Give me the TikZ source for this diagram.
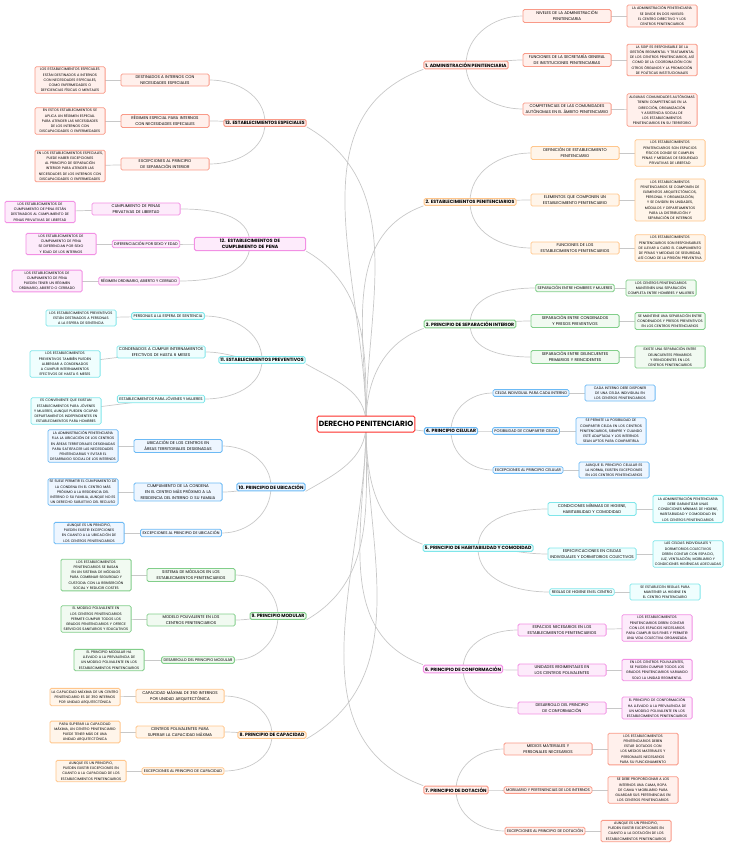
\documentclass[tikz,border=0pt]{standalone}
\usepackage{fontspec}
\setmainfont{Poppins}
\usetikzlibrary{backgrounds}
\definecolor{bR}{HTML}{F99A88}\definecolor{fR}{HTML}{FFF0EC}
\definecolor{bO}{HTML}{FFC68C}\definecolor{fO}{HTML}{FFF5EA}
\definecolor{bG}{HTML}{82CE8A}\definecolor{fG}{HTML}{F1FAF1}
\definecolor{bB}{HTML}{6CBAF5}\definecolor{fB}{HTML}{EEF6FF}
\definecolor{bC}{HTML}{80E6EA}\definecolor{fC}{HTML}{EFFEFE}
\definecolor{bP}{HTML}{F290E4}\definecolor{fP}{HTML}{FDEBFB}
\definecolor{ln}{HTML}{C8C8C8}
\begin{document}
\hyphenpenalty=10000 \exhyphenpenalty=10000
\begin{tikzpicture}[x=1pt,y=-1pt,
 base/.style={rounded corners=1.5pt,line width=0.8pt,align=center,inner sep=1.6pt},
 leaf/.style={base,font=\fontsize{3.5}{5.2}\selectfont,text width=67pt},
 child/.style={base,font=\fontsize{4.0}{5.9}\selectfont,text width=85pt},
 one/.style={base,font=\fontsize{3.8}{5.9}\selectfont,inner sep=2pt},
 main/.style={base,line width=1pt,font=\bfseries\fontsize{4.6}{6.4}\selectfont},
 cR/.style={draw=bR,fill=fR},cO/.style={draw=bO,fill=fO},cG/.style={draw=bG,fill=fG},
 cB/.style={draw=bB,fill=fB},cC/.style={draw=bC,fill=fC},cP/.style={draw=bP,fill=fP},
 con/.style={draw=ln,line width=0.7pt}]
\useasboundingbox (0,0) rectangle (728,848);
\node[base,cR,draw=red!70!bR,line width=1pt,fill=white,font=\bfseries\fontsize{7.5}{9}\selectfont,minimum width=88pt,minimum height=16pt] (root) at (366,424) {DERECHO PENITENCIARIO};
% ---- right mains
\node[main,cR] (m1) at (466,65) {1. ADMINISTRACIÓN PENITENCIARIA};
\node[main,cO] (m2) at (470,202) {2. ESTABLECIMIENTOS PENITENCIARIOS};
\node[main,cG] (m3) at (470,324) {3. PRINCIPIO DE SEPARACIÓN INTERIOR};
\node[main,cB] (m4) at (451,431) {4. PRINCIPIO CELULAR};
\node[main,cC] (m5) at (478,548) {5. PRINCIPIO DE HABITABILIDAD Y COMODIDAD};
\node[main,cP] (m6) at (463,669) {6. PRINCIPIO DE CONFORMACIÓN};
\node[main,cR] (m7) at (456,790) {7. PRINCIPIO DE DOTACIÓN};
% ---- left mains
\node[main,cR] (m13) at (265,123) {13. ESTABLECIMIENTOS ESPECIALES};
\node[main,cP,text width=108pt] (m12) at (250,244) {12. ESTABLECIMIENTOS DE CUMPLIMIENTO DE PENA};
\node[main,cC] (m11) at (262,360) {11. ESTABLECIMIENTOS PREVENTIVOS};
\node[main,cB] (m10) at (271,487) {10. PRINCIPIO DE UBICACIÓN};
\node[main,cG] (m9) at (278,616) {9. PRINCIPIO MODULAR};
\node[main,cO] (m8) at (272,735) {8. PRINCIPIO DE CAPACIDAD};
% ---- 1
\node[child,cR] (c1a) at (567,16) {NIVELES DE LA ADMINISTRACIÓN PENITENCIARIA};
\node[child,cR] (c1b) at (567,60) {FUNCIONES DE LA SECRETARÍA GENERAL DE INSTITUCIONES PENITENCIARIAS};
\node[child,cR] (c1c) at (567,109) {COMPETENCIAS DE LAS COMUNIDADES AUTÓNOMAS EN EL ÁMBITO PENITENCIARIO};
\node[leaf,cR] (l1a) at (662,16) {LA ADMINISTRACIÓN PENITENCIARIA SE DIVIDE EN DOS NIVELES: EL CENTRO DIRECTIVO Y LOS CENTROS PENITENCIARIOS};
\node[leaf,cR] (l1b) at (662,60) {LA SGIP ES RESPONSABLE DE LA GESTIÓN REGIMENTAL Y TRATAMENTAL DE LOS CENTROS PENITENCIARIOS, ASÍ COMO DE LA COORDINACIÓN CON OTROS ÓRGANOS Y LA PROMOCIÓN DE POLÍTICAS INSTITUCIONALES};
\node[leaf,cR] (l1c) at (662,110) {ALGUNAS COMUNIDADES AUTÓNOMAS TIENEN COMPETENCIAS EN LA DIRECCIÓN, ORGANIZACIÓN Y ASISTENCIA SOCIAL DE LOS ESTABLECIMIENTOS PENITENCIARIOS EN SU TERRITORIO};
% ---- 2
\node[child,cO] (c2a) at (575,153) {DEFINICIÓN DE ESTABLECIMIENTO PENITENCIARIO};
\node[child,cO] (c2b) at (575,200) {ELEMENTOS QUE COMPONEN UN ESTABLECIMIENTO PENITENCIARIO};
\node[child,cO] (c2c) at (575,248) {FUNCIONES DE LOS ESTABLECIMIENTOS PENITENCIARIOS};
\node[leaf,cO] (l2a) at (670,153) {LOS ESTABLECIMIENTOS PENITENCIARIOS SON ESPACIOS FÍSICOS DONDE SE CUMPLEN PENAS Y MEDIDAS DE SEGURIDAD PRIVATIVAS DE LIBERTAD};
\node[leaf,cO] (l2b) at (670,200) {LOS ESTABLECIMIENTOS PENITENCIARIOS SE COMPONEN DE ELEMENTOS ARQUITECTÓNICOS, PERSONAL Y ORGANIZACIÓN, Y SE DIVIDEN EN UNIDADES, MÓDULOS Y DEPARTAMENTOS PARA LA DISTRIBUCIÓN Y SEPARACIÓN DE INTERNOS};
\node[leaf,cO] (l2c) at (670,248) {LOS ESTABLECIMIENTOS PENITENCIARIOS SON RESPONSABLES DE LLEVAR A CABO EL CUMPLIMIENTO DE PENAS Y MEDIDAS DE SEGURIDAD, ASÍ COMO DE LA PRISIÓN PREVENTIVA};
% ---- 3
\node[one,cG] (c3a) at (575,288) {SEPARACIÓN ENTRE HOMBRES Y MUJERES};
\node[child,cG] (c3b) at (575,321) {SEPARACIÓN ENTRE CONDENADOS Y PRESOS PREVENTIVOS};
\node[child,cG] (c3c) at (575,357) {SEPARACIÓN ENTRE DELINCUENTES PRIMARIOS Y REINCIDENTES};
\node[leaf,cG] (l3a) at (661,288) {LOS CENTROS PENITENCIARIOS MANTIENEN UNA SEPARACIÓN COMPLETA ENTRE HOMBRES Y MUJERES};
\node[leaf,cG] (l3b) at (670,321) {SE MANTIENE UNA SEPARACIÓN ENTRE CONDENADOS Y PRESOS PREVENTIVOS EN LOS CENTROS PENITENCIARIOS};
\node[leaf,cG] (l3c) at (670,357) {EXISTE UNA SEPARACIÓN ENTRE DELINCUENTES PRIMARIOS Y REINCIDENTES EN LOS CENTROS PENITENCIARIOS};
% ---- 4
\node[one,cB] (c4a) at (531,393) {CELDA INDIVIDUAL PARA CADA INTERNO};
\node[one,cB] (c4b) at (526,431) {POSIBILIDAD DE COMPARTIR CELDA};
\node[one,cB] (c4c) at (528,470) {EXCEPCIONES AL PRINCIPIO CELULAR};
\node[leaf,cB] (l4a) at (620,393) {CADA INTERNO DEBE DISPONER DE UNA CELDA INDIVIDUAL EN LOS CENTROS PENITENCIARIOS};
\node[leaf,cB] (l4b) at (611,431) {SE PERMITE LA POSIBILIDAD DE COMPARTIR CELDA EN LOS CENTROS PENITENCIARIOS, SIEMPRE Y CUANDO ESTÉ ADAPTADA Y LOS INTERNOS SEAN APTOS PARA COMPARTIRLA};
\node[leaf,cB] (l4c) at (614,470) {AUNQUE EL PRINCIPIO CELULAR ES LA NORMA, EXISTEN EXCEPCIONES EN LOS CENTROS PENITENCIARIOS};
% ---- 5
\node[child,cC] (c5a) at (592,509) {CONDICIONES MÍNIMAS DE HIGIENE, HABITABILIDAD Y COMODIDAD};
\node[child,cC] (c5b) at (592,554) {ESPECIFICACIONES EN CELDAS INDIVIDUALES Y DORMITORIOS COLECTIVOS};
\node[one,cC] (c5c) at (582,592) {REGLAS DE HIGIENE EN EL CENTRO};
\node[leaf,cC] (l5a) at (688,509) {LA ADMINISTRACIÓN PENITENCIARIA DEBE GARANTIZAR UNAS CONDICIONES MÍNIMAS DE HIGIENE, HABITABILIDAD Y COMODIDAD EN LOS CENTROS PENITENCIARIOS};
\node[leaf,cC] (l5b) at (688,554) {LAS CELDAS INDIVIDUALES Y DORMITORIOS COLECTIVOS DEBEN CONTAR CON ESPACIO, LUZ, VENTILACIÓN, MOBILIARIO Y CONDICIONES HIGIÉNICAS ADECUADAS};
\node[leaf,cC] (l5c) at (665,592) {SE ESTABLECEN REGLAS PARA MANTENER LA HIGIENE EN EL CENTRO PENITENCIARIO};
% ---- 6
\node[child,cP] (c6a) at (562,630) {ESPACIOS NECESARIOS EN LOS ESTABLECIMIENTOS PENITENCIARIOS};
\node[child,cP] (c6b) at (562,670) {UNIDADES REGIMENTALES EN LOS CENTROS POLIVALENTES};
\node[child,cP] (c6c) at (562,708) {DESARROLLO DEL PRINCIPIO DE CONFORMACIÓN};
\node[leaf,cP] (l6a) at (657,628) {LOS ESTABLECIMIENTOS PENITENCIARIOS DEBEN CONTAR CON LOS ESPACIOS NECESARIOS PARA CUMPLIR SUS FINES Y PERMITIR UNA VIDA COLECTIVA ORGANIZADA};
\node[leaf,cP] (l6b) at (657,670) {EN LOS CENTROS POLIVALENTES, SE PUEDEN CUMPLIR TODOS LOS GRADOS PENITENCIARIOS VARIANDO SOLO LA UNIDAD REGIMENTAL};
\node[leaf,cP] (l6c) at (657,708) {EL PRINCIPIO DE CONFORMACIÓN HA LLEVADO A LA PREVALENCIA DE UN MODELO POLIVALENTE EN LOS ESTABLECIMIENTOS PENITENCIARIOS};
% ---- 7
\node[child,cR] (c7a) at (548,749) {MEDIOS MATERIALES Y PERSONALES NECESARIOS};
\node[one,cR] (c7b) at (548,790) {MOBILIARIO Y PERTENENCIAS DE LOS INTERNOS};
\node[one,cR] (c7c) at (545,831) {EXCEPCIONES AL PRINCIPIO DE DOTACIÓN};
\node[leaf,cR] (l7a) at (643,749) {LOS ESTABLECIMIENTOS PENITENCIARIOS DEBEN ESTAR DOTADOS CON LOS MEDIOS MATERIALES Y PERSONALES NECESARIOS PARA SU FUNCIONAMIENTO};
\node[leaf,cR] (l7b) at (643,790) {SE DEBE PROPORCIONAR A LOS INTERNOS UNA CAMA, ROPA DE CAMA Y MOBILIARIO PARA GUARDAR SUS PERTENENCIAS EN LOS CENTROS PENITENCIARIOS};
\node[leaf,cR] (l7c) at (636,831) {AUNQUE ES UN PRINCIPIO, PUEDEN EXISTIR EXCEPCIONES EN CUANTO A LA DOTACIÓN DE LOS ESTABLECIMIENTOS PENITENCIARIOS};
% ---- 13
\node[child,cR] (c13a) at (165,80) {DESTINADOS A INTERNOS CON NECESIDADES ESPECIALES};
\node[child,cR] (c13b) at (165,121) {RÉGIMEN ESPECIAL PARA INTERNOS CON NECESIDADES ESPECIALES};
\node[child,cR] (c13c) at (165,164) {EXCEPCIONES AL PRINCIPIO DE SEPARACIÓN INTERIOR};
\node[leaf,cR] (l13a) at (70,80) {LOS ESTABLECIMIENTOS ESPECIALES ESTÁN DESTINADOS A INTERNOS CON NECESIDADES ESPECIALES, COMO ENFERMEDADES O DEFICIENCIAS FÍSICAS O MENTALES};
\node[leaf,cR] (l13b) at (70,121) {EN ESTOS ESTABLECIMIENTOS SE APLICA UN RÉGIMEN ESPECIAL PARA ATENDER LAS NECESIDADES DE LOS INTERNOS CON DISCAPACIDADES O ENFERMEDADES};
\node[leaf,cR] (l13c) at (70,166) {EN LOS ESTABLECIMIENTOS ESPECIALES, PUEDE HABER EXCEPCIONES AL PRINCIPIO DE SEPARACIÓN INTERIOR PARA ATENDER LAS NECESIDADES DE LOS INTERNOS CON DISCAPACIDADES O ENFERMEDADES};
% ---- 12
\node[child,cP] (c12a) at (136,209) {CUMPLIMIENTO DE PENAS PRIVATIVAS DE LIBERTAD};
\node[one,cP] (c12b) at (146,244) {DIFERENCIACIÓN POR SEXO Y EDAD};
\node[one,cP] (c12c) at (139,281) {RÉGIMEN ORDINARIO, ABIERTO Y CERRADO};
\node[leaf,cP] (l12a) at (40,212) {LOS ESTABLECIMIENTOS DE CUMPLIMIENTO DE PENA ESTÁN DESTINADOS AL CUMPLIMIENTO DE PENAS PRIVATIVAS DE LIBERTAD};
\node[leaf,cP] (l12b) at (61,244) {LOS ESTABLECIMIENTOS DE CUMPLIMIENTO DE PENA SE DIFERENCIAN POR SEXO Y EDAD DE LOS INTERNOS};
\node[leaf,cP] (l12c) at (47,281) {LOS ESTABLECIMIENTOS DE CUMPLIMIENTO DE PENA PUEDEN TENER UN RÉGIMEN ORDINARIO, ABIERTO O CERRADO};
% ---- 11
\node[one,cC] (c11a) at (168,316) {PERSONAS A LA ESPERA DE SENTENCIA};
\node[child,cC] (c11b) at (161,352) {CONDENADOS A CUMPLIR INTERNAMIENTOS EFECTIVOS DE HASTA 6 MESES};
\node[one,cC] (c11c) at (161,399) {ESTABLECIMIENTOS PARA JÓVENES Y MUJERES};
\node[leaf,cC] (l11a) at (81,318) {LOS ESTABLECIMIENTOS PREVENTIVOS ESTÁN DESTINADOS A PERSONAS A LA ESPERA DE SENTENCIA};
\node[leaf,cC] (l11b) at (65,364) {LOS ESTABLECIMIENTOS PREVENTIVOS TAMBIÉN PUEDEN ALBERGAR A CONDENADOS A CUMPLIR INTERNAMIENTOS EFECTIVOS DE HASTA 6 MESES};
\node[leaf,cC] (l11c) at (66,411) {ES CONVENIENTE QUE EXISTAN ESTABLECIMIENTOS PARA JÓVENES Y MUJERES, AUNQUE PUEDEN OCUPAR DEPARTAMENTOS INDEPENDIENTES EN ESTABLECIMIENTOS PARA HOMBRES};
% ---- 10
\node[child,cB] (c10a) at (178,446) {UBICACIÓN DE LOS CENTROS EN ÁREAS TERRITORIALES DESIGNADAS};
\node[child,cB] (c10b) at (178,492) {CUMPLIMIENTO DE LA CONDENA EN EL CENTRO MÁS PRÓXIMO A LA RESIDENCIA DEL INTERNO O SU FAMILIA};
\node[one,cB] (c10c) at (181,533) {EXCEPCIONES AL PRINCIPIO DE UBICACIÓN};
\node[leaf,cB] (l10a) at (83,446) {LA ADMINISTRACIÓN PENITENCIARIA FIJA LA UBICACIÓN DE LOS CENTROS EN ÁREAS TERRITORIALES DESIGNADAS PARA SATISFACER LAS NECESIDADES PENITENCIARIAS Y EVITAR EL DESARRAIGO SOCIAL DE LOS INTERNOS};
\node[leaf,cB] (l10b) at (83,492) {SE SUELE PERMITIR EL CUMPLIMIENTO DE LA CONDENA EN EL CENTRO MÁS PRÓXIMO A LA RESIDENCIA DEL INTERNO O SU FAMILIA, AUNQUE NO ES UN DERECHO SUBJETIVO DEL RECLUSO};
\node[leaf,cB] (l10c) at (89,533) {AUNQUE ES UN PRINCIPIO, PUEDEN EXISTIR EXCEPCIONES EN CUANTO A LA UBICACIÓN DE LOS CENTROS PENITENCIARIOS};
% ---- 9
\node[child,cG] (c9a) at (191,575) {SISTEMA DE MÓDULOS EN LOS ESTABLECIMIENTOS PENITENCIARIOS};
\node[child,cG] (c9b) at (191,620) {MODELO POLIVALENTE EN LOS CENTROS PENITENCIARIOS};
\node[one,cG] (c9c) at (198,660) {DESARROLLO DEL PRINCIPIO MODULAR};
\node[leaf,cG] (l9a) at (96,575) {LOS ESTABLECIMIENTOS PENITENCIARIOS SE BASAN EN UN SISTEMA DE MÓDULOS PARA COMBINAR SEGURIDAD Y CUSTODIA CON LA REINSERCIÓN SOCIAL Y REDUCIR COSTES};
\node[leaf,cG] (l9b) at (96,619) {EL MODELO POLIVALENTE EN LOS CENTROS PENITENCIARIOS PERMITE CUMPLIR TODOS LOS GRADOS PENITENCIARIOS Y OFRECE SERVICIOS SANITARIOS Y EDUCATIVOS};
\node[leaf,cG] (l9c) at (109,660) {EL PRINCIPIO MODULAR HA LLEVADO A LA PREVALENCIA DE UN MODELO POLIVALENTE EN LOS ESTABLECIMIENTOS PENITENCIARIOS};
% ---- 8
\node[child,cO] (c8a) at (180,696) {CAPACIDAD MÁXIMA DE 350 INTERNOS POR UNIDAD ARQUITECTÓNICA};
\node[child,cO] (c8b) at (180,732) {CENTROS POLIVALENTES PARA SUPERAR LA CAPACIDAD MÁXIMA};
\node[one,cO] (c8c) at (183,771) {EXCEPCIONES AL PRINCIPIO DE CAPACIDAD};
\node[leaf,cO] (l8a) at (85,697) {LA CAPACIDAD MÁXIMA DE UN CENTRO PENITENCIARIO ES DE 350 INTERNOS POR UNIDAD ARQUITECTÓNICA};
\node[leaf,cO] (l8b) at (85,732) {PARA SUPERAR LA CAPACIDAD MÁXIMA, UN CENTRO PENITENCIARIO PUEDE TENER MÁS DE UNA UNIDAD ARQUITECTÓNICA};
\node[leaf,cO] (l8c) at (91,771) {AUNQUE ES UN PRINCIPIO, PUEDEN EXISTIR EXCEPCIONES EN CUANTO A LA CAPACIDAD DE LOS ESTABLECIMIENTOS PENITENCIARIOS};
\begin{scope}[on background layer]
\foreach \m in {m1,m2,m3} \draw[con] (root.center) to[out=90,in=200] (\m.south west);
\draw[con] (root.center) -- (m4.west);
\foreach \m in {m5,m6,m7} \draw[con] (root.center) to[out=-90,in=160] (\m.north west);
\foreach \m in {m13,m12,m11} \draw[con] (root.center) to[out=90,in=-30] (\m.south east);
\foreach \m in {m10,m9,m8} \draw[con] (root.center) to[out=-90,in=30] (\m.south east);
\foreach \i in {1,...,7}{
 \draw[con] (m\i.center) to[out=90,in=180] (c\i a.west);
 \draw[con] (m\i.center) to[out=0,in=180] (c\i b.west);
 \draw[con] (m\i.center) to[out=-90,in=180] (c\i c.west);
 \foreach \k in {a,b,c} \draw[con] (c\i\k.center) -- (l\i\k.center);}
\foreach \i in {8,...,13}{
 \draw[con] (m\i.center) to[out=90,in=0] (c\i a.east);
 \draw[con] (m\i.center) to[out=180,in=0] (c\i b.east);
 \draw[con] (m\i.center) to[out=-90,in=0] (c\i c.east);
 \foreach \k in {a,b,c} \draw[con] (c\i\k.center) -- (l\i\k.center);}
\end{scope}
\end{tikzpicture}
\end{document}
